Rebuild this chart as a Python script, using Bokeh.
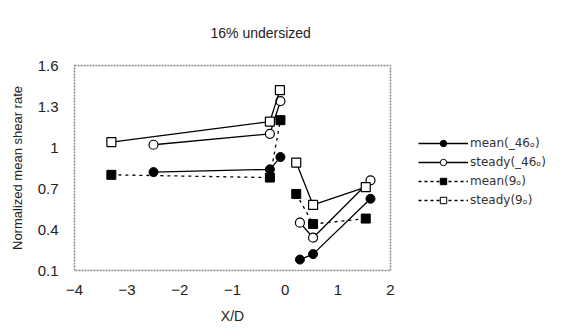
import numpy as np
from bokeh.plotting import figure
from bokeh.models import Legend, LegendItem, FixedTicker, ColumnDataSource
from bokeh.embed import file_html
from bokeh.resources import INLINE

# data (NaN splits upstream / downstream segments)
mean46_x = [-2.5, -0.29, -0.09, np.nan, 0.28, 0.53, 1.62]
mean46_y = [0.82, 0.84, 0.93, np.nan, 0.18, 0.22, 0.625]
steady46_x = [-2.5, -0.29, -0.09, np.nan, 0.28, 0.53, 1.62]
steady46_y = [1.02, 1.10, 1.34, np.nan, 0.45, 0.34, 0.76]
mean9_x = [-3.3, -0.29, -0.09, np.nan, 0.21, 0.53, 1.53]
mean9_y = [0.80, 0.78, 1.20, np.nan, 0.66, 0.44, 0.48]
steady9_x = [-3.3, -0.29, -0.1, np.nan, 0.21, 0.53, 1.53]
steady9_y = [1.04, 1.19, 1.42, np.nan, 0.89, 0.58, 0.71]

x_ticks = [-4, -3, -2, -1, 0, 1, 2]
x_tick_labels = ["\u22124", "\u22123", "\u22122", "\u22121", "0", "1", "2"]
y_ticks = [0.1, 0.4, 0.7, 1.0, 1.3, 1.6]
y_tick_labels = ["0.1", "0.4", "0.7", "1", "1.3", "1.6"]

legend_labels = ["mean(_46\u2092)", "steady(_46\u2092)", "mean(9\u2092)", "steady(9\u2092)"]

FONT = "Liberation Sans"
LFONT = "DejaVu Sans"

p = figure(frame_width=316, frame_height=205, x_range=(-4, 2), y_range=(0.1, 1.6),
           output_backend="svg", toolbar_location=None,
           min_border_left=74, min_border_right=167, min_border_top=65, min_border_bottom=50)
p.background_fill_color = "white"
p.border_fill_color = "white"
p.outline_line_color = "#888888"
p.outline_line_width = 1.5
p.outline_line_dash = "2 1"
p.grid.visible = False

p.title.text = "16% undersized"
p.title.align = "left"
p.title.offset = 136
p.title.text_font = FONT
p.title.text_font_size = "14px"
p.title.text_font_style = "normal"
p.title.text_color = "#222222"
p.title.vertical_align = "top"
if "standoff" in p.title.properties():
    p.title.standoff = 46

for ax in (p.xaxis[0], p.yaxis[0]):
    ax.axis_line_color = None
    ax.major_tick_line_color = None
    ax.minor_tick_line_color = None
    ax.major_label_text_font = FONT
    ax.major_label_text_color = "#222222"
    ax.axis_label_text_font = FONT
    ax.axis_label_text_font_style = "normal"
    ax.axis_label_text_color = "#222222"

p.xaxis.ticker = FixedTicker(ticks=x_ticks)
p.xaxis.major_label_overrides = {t: l for t, l in zip(x_ticks, x_tick_labels)}
p.yaxis.ticker = FixedTicker(ticks=y_ticks)
p.yaxis.major_label_overrides = {t: l for t, l in zip(y_ticks, y_tick_labels)}
p.xaxis.major_label_text_font_size = "15px"
p.yaxis.major_label_text_font_size = "15px"
p.xaxis.major_label_standoff = 8
p.yaxis.major_label_standoff = 10
p.xaxis.axis_label = "X/D"
p.yaxis.axis_label = "Normalized mean shear rate"
p.xaxis.axis_label_text_font_size = "14px"
p.yaxis.axis_label_text_font_size = "13px"
p.xaxis.axis_label_standoff = 10
p.yaxis.axis_label_standoff = 10

LW = 1.3
MS = 9
# mean(_46)
p.line(mean46_x, mean46_y, line_color="black", line_width=LW)
p.scatter(mean46_x, mean46_y, marker="circle", size=MS, fill_color="black", line_color="black")
# steady(_46)
p.line(steady46_x, steady46_y, line_color="black", line_width=LW)
p.scatter(steady46_x, steady46_y, marker="circle", size=MS, fill_color="white", line_color="black", line_width=1.2)
# mean(9)
p.line(mean9_x, mean9_y, line_color="black", line_width=LW, line_dash="3 4")
p.scatter(mean9_x, mean9_y, marker="square", size=MS, fill_color="black", line_color="black")
# steady(9)
p.line(steady9_x, steady9_y, line_color="black", line_width=LW)
p.scatter(steady9_x, steady9_y, marker="square", size=MS, fill_color="white", line_color="black", line_width=1.2)

# legend-only renderers
items = []
styles = [("circle", "black", None), ("circle", "white", None),
          ("square", "black", "3 3"), ("square", "white", "3 3")]
for lab, (mk, fc, dash) in zip(legend_labels, styles):
    src = ColumnDataSource(data=dict(x=[np.nan], y=[np.nan]))
    if dash:
        lr = p.line("x", "y", source=src, line_color="black", line_width=LW, line_dash=dash)
    else:
        lr = p.line("x", "y", source=src, line_color="black", line_width=LW)
    sr = p.scatter("x", "y", source=src, marker=mk, size=8, fill_color=fc, line_color="black")
    items.append(LegendItem(label=lab, renderers=[lr, sr]))

legend = Legend(items=items, location=(28, 62), glyph_width=50, glyph_height=16,
                spacing=3, padding=0, margin=0, label_standoff=2,
                label_text_font=LFONT, label_text_font_size="12px",
                label_text_color="#333333", border_line_color=None,
                background_fill_alpha=0)
p.add_layout(legend, "right")

open("out.html", "w").write(file_html(p, INLINE))
